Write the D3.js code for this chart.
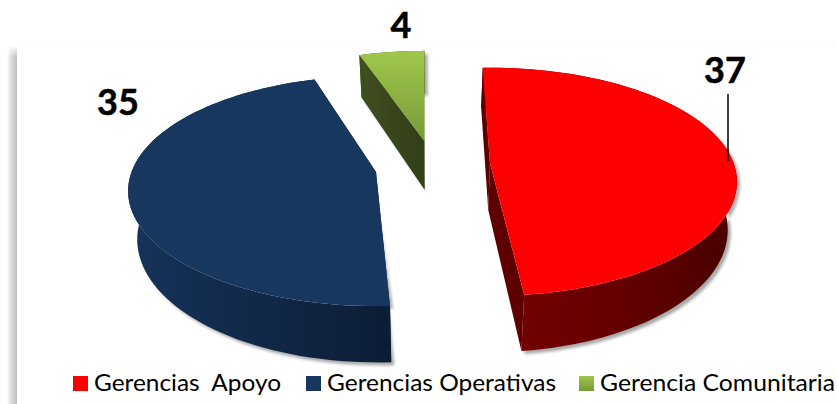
<!DOCTYPE html>
<html>
<head>
<meta charset="utf-8">
<script src="https://d3js.org/d3.v7.min.js"></script>
<style>
  html, body { margin: 0; padding: 0; background: #fff; }
  svg { display: block; }
  text { font-family: Lato, sans-serif; fill: #000; white-space: pre; }
</style>
</head>
<body>
<div id="chart"></div>
<script>
// Chart data
const categories = ["Gerencias  Apoyo", "Gerencias Operativas", "Gerencia Comunitaria"];
const values = [37, 35, 4];

const width = 837;
const height = 404;

// Per slice placement of the exploded 3D pie (apex position, radii, small rotation)
const geometry = [
  { ax: 490, ay: 163, a: 243.5, b: 111, rot: -1, depth: 47 },
  { ax: 376, ay: 172, a: 244.5, b: 112, rot: 3, depth: 47 },
  { ax: 424.5, ay: 141, a: 232, b: 105, rot: 1, depth: 49 }
];
const persp = 0.165;
// The lower plane of the pie sits further from the eye, so it draws a bit narrower
const lowerScale = 0.97;
const pieCentreX = 432;

const svg = d3.select("#chart").append("svg")
    .attr("width", width)
    .attr("height", height);

const defs = svg.append("defs");

function gradient(id, stops, vertical) {
  const g = defs.append("linearGradient").attr("id", id)
      .attr("x1", 0).attr("y1", 0)
      .attr("x2", vertical ? 0 : 1).attr("y2", vertical ? 1 : 0);
  stops.forEach(s => g.append("stop").attr("offset", s[0]).attr("stop-color", s[1]).attr("stop-opacity", s[2] === undefined ? 1 : s[2]));
}

gradient("topGreen", [[0, "#a0c74b"], [1, "#779a38"]], true);
gradient("sideRed", [[0, "#780000"], [0.5, "#660000"], [1, "#480000"]]);
gradient("sideBlue", [[0, "#16335a"], [1, "#0b1d35"]]);
gradient("sideGreen", [[0, "#414f20"], [1, "#323e18"]]);
gradient("pageShadow", [[0, "#ffffff"], [0.35, "#e0e0e0"], [1, "#bdbdbd"]]);
gradient("pageFade", [[0, "#ffffff", 1], [1, "#ffffff", 0]], true);

defs.append("filter").attr("id", "blur")
    .attr("x", "-10%").attr("y", "-10%").attr("width", "120%").attr("height", "120%")
  .append("feGaussianBlur").attr("stdDeviation", 1.6);

// Grey strip down the left side of the picture
svg.append("rect").attr("x", 7).attr("y", 47).attr("width", 10).attr("height", height - 47)
    .attr("fill", "url(#pageShadow)");
svg.append("rect").attr("x", 6).attr("y", 45).attr("width", 12).attr("height", 12)
    .attr("fill", "url(#pageFade)");
svg.append("rect").attr("x", 17).attr("y", 45).attr("width", width - 17).attr("height", 1)
    .attr("fill", "#fbfbfb");

const color = d3.scaleOrdinal().domain(categories).range(["#ff0000", "#17375e", "url(#topGreen)"]);
const sideColor = d3.scaleOrdinal().domain(categories).range(["url(#sideRed)", "url(#sideBlue)", "url(#sideGreen)"]);
const edgeColor = d3.scaleOrdinal().domain(categories).range(["#5e0000", "#0c1f38", "url(#sideGreen)"]);

const pie = d3.pie().sort(null)
    .startAngle(-Math.PI / 180)
    .endAngle(2 * Math.PI - Math.PI / 180);
const arcs = pie(values);

// Tilted circle -> screen, with a little perspective
function project(g, angle, r, down) {
  const u = r * Math.sin(angle);
  const v = -r * Math.cos(angle);
  const w = 1 - persp * v;
  const x = g.ax + g.a * u / w;
  return [
    down ? pieCentreX + (x - pieCentreX) * lowerScale : x,
    g.ay + (g.b * v + (down ? g.depth : 0)) / w
  ];
}

const line = d3.line();

function rim(g, a0, a1, down) {
  const n = 80;
  return d3.range(n + 1).map(i => project(g, a0 + (a1 - a0) * i / n, 1, down));
}

const slices = arcs.map((d, i) => {
  const g = geometry[i];
  const rad = g.rot * Math.PI / 180;
  const a0 = d.startAngle + rad;
  const a1 = d.endAngle + rad;
  const apex = project(g, 0, 0, false);
  const apexDown = project(g, 0, 0, true);
  const top = rim(g, a0, a1, false);
  const bottom = rim(g, a0, a1, true);
  return {
    name: categories[i], apex, apexDown, top, bottom,
    outline: [apexDown].concat(bottom, top.slice().reverse())
  };
});

// Soft shadows, drawn first so every slice sits on top of them
svg.append("g").selectAll("path")
  .data(slices)
  .join("path")
    .attr("d", d => line(d.outline) + "Z")
    .attr("transform", "translate(3,3)")
    .attr("fill", "#8a8a8a")
    .attr("opacity", 0.75)
    .attr("filter", "url(#blur)");

const group = svg.append("g").selectAll("g")
  .data(slices)
  .join("g");

// Outer wall
group.append("path")
    .attr("d", d => line(d.top.concat(d.bottom.slice().reverse())) + "Z")
    .attr("fill", d => sideColor(d.name));

// The two cut walls
group.append("path")
    .attr("d", d => line([d.apex, d.top[0], d.bottom[0], d.apexDown]) + "Z")
    .attr("fill", d => edgeColor(d.name));
group.append("path")
    .attr("d", d => line([d.apex, d.top[d.top.length - 1], d.bottom[d.bottom.length - 1], d.apexDown]) + "Z")
    .attr("fill", d => edgeColor(d.name));

// Top face
group.append("path")
    .attr("d", d => line([d.apex].concat(d.top)) + "Z")
    .attr("fill", d => color(d.name));

// Leader line for the first label
svg.append("line")
    .attr("x1", 728).attr("x2", 728)
    .attr("y1", 94).attr("y2", 161)
    .attr("stroke", "#000")
    .attr("stroke-width", 1.5);

// Value labels
const labelPos = [[725, 83], [118, 115], [401, 38]];
svg.append("g").selectAll("text")
  .data(values)
  .join("text")
    .attr("x", (d, i) => labelPos[i][0])
    .attr("y", (d, i) => labelPos[i][1])
    .attr("text-anchor", "middle")
    .attr("stroke", "#000")
    .attr("stroke-width", 0.5)
    .style("font-size", "36px")
    .style("font-weight", 700)
    .text(d => d);

// Legend, the text runs a little wider than the font so it is fitted to its length
const legendX = [73, 306, 579];
const legendLen = [187, 229, 235];
const legend = svg.append("g").selectAll("g")
  .data(categories)
  .join("g")
    .attr("transform", (d, i) => `translate(${legendX[i]},376)`);

legend.append("rect")
    .attr("width", 15)
    .attr("height", 15)
    .attr("fill", d => color(d));

legend.append("text")
    .attr("x", 21)
    .attr("y", 15)
    .attr("textLength", (d, i) => legendLen[i])
    .attr("lengthAdjust", "spacingAndGlyphs")
    .style("font-size", "23px")
    .text(d => d);
</script>
</body>
</html>
